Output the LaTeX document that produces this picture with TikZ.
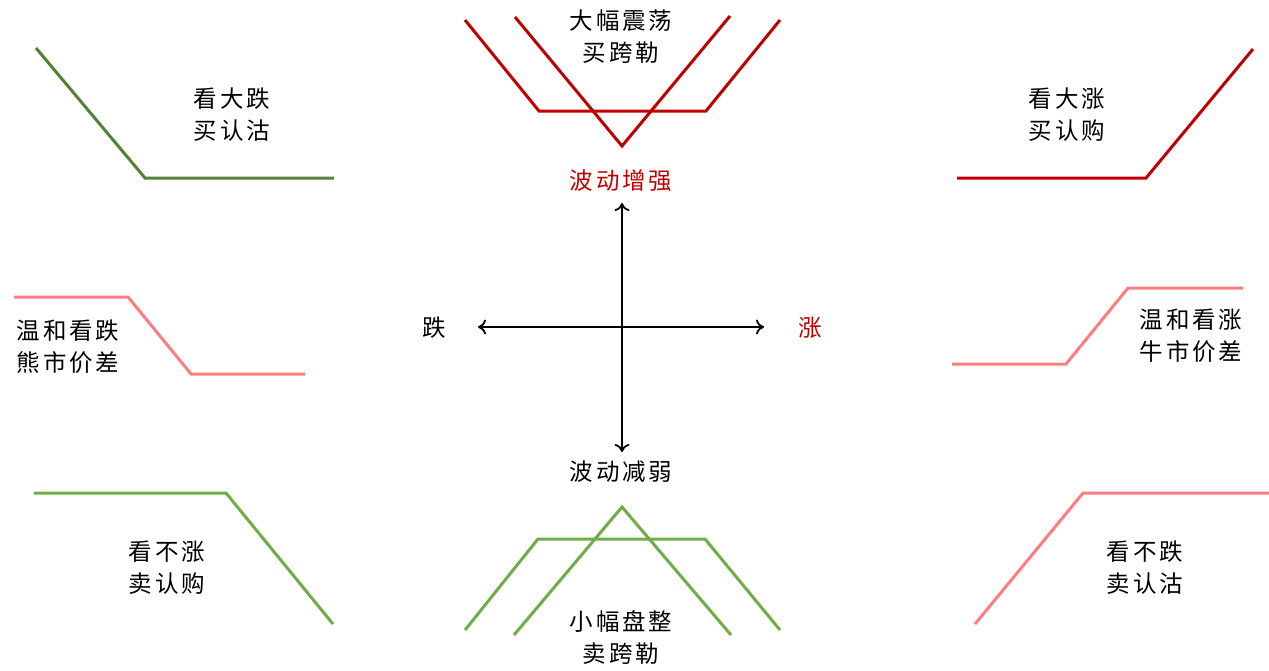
\documentclass[tikz,border=0pt]{standalone}
\usepackage{fontspec}
\newfontfamily\cjk[LetterSpace=12]{Noto Sans CJK SC}
\usetikzlibrary{arrows.meta}
\definecolor{dgreen}{HTML}{548235}
\definecolor{lgreen}{HTML}{70AD47}
\definecolor{dred}{HTML}{C00000}
\definecolor{lred}{HTML}{FF7C80}
\begin{document}
\begin{tikzpicture}[x=1pt,y=-1pt,
  pay/.style={line width=3pt,line join=miter},
  lbl/.style={font={\cjk\fontsize{23.5}{32}\selectfont},align=center,inner sep=0pt,text=black},
  axis/.style={line width=1.8pt,-{To[length=8pt,width=15pt,line width=1.8pt]}}]
\useasboundingbox (0,0) rectangle (1269,670);
% payoff lines
\draw[pay,dgreen] (36,48) -- (145,178) -- (334,178);
\draw[pay,dred] (957,178) -- (1146,178) -- (1253,49);
\draw[pay,dred] (465,20) -- (539,111) -- (706,111) -- (780,20);
\draw[pay,dred] (515,17) -- (622,146) -- (730,16);
\draw[pay,lred] (14,297) -- (128,297) -- (191,374) -- (305,374);
\draw[pay,lred] (952,364) -- (1066,364) -- (1128,288) -- (1243,288);
\draw[pay,lgreen] (34,493) -- (226,493) -- (333,624);
\draw[pay,lred] (975,624) -- (1083,493) -- (1269,493);
\draw[pay,lgreen] (465,630) -- (538,539) -- (705,539) -- (780,630);
\draw[pay,lgreen] (514,635) -- (622,507) -- (731,635);
% axes
\coordinate (o) at (622,327);
\coordinate (up) at (622,203);
\coordinate (dn) at (622,452);
\coordinate (lt) at (478,327);
\coordinate (rt) at (764,327);
\draw[axis] (o) -- (up);
\draw[axis] (o) -- (dn);
\draw[axis] (o) -- (lt);
\draw[axis] (o) -- (rt);
% labels
\node[lbl] (fall) at (434,328) {跌};
\node[lbl,text=dred] (rise) at (810,328) {涨};
\node[lbl,text=dred] (volup) at (621,181) {波动增强};
\node[lbl] (voldn) at (621,472) {波动减弱};
\node[lbl] (strad) at (621,37) {大幅震荡\\买跨勒};
\node[lbl] (bput) at (232,115) {看大跌\\买认沽};
\node[lbl] (bcall) at (1067,115) {看大涨\\买认购};
\node[lbl] (bear) at (68,347) {温和看跌\\熊市价差};
\node[lbl] (bull) at (1191,336) {温和看涨\\牛市价差};
\node[lbl] (scall) at (167,568) {看不涨\\卖认购};
\node[lbl] (sput) at (1145,568) {看不跌\\卖认沽};
\node[lbl] (sstrad) at (621,637) {小幅盘整\\卖跨勒};
\end{tikzpicture}
\end{document}
